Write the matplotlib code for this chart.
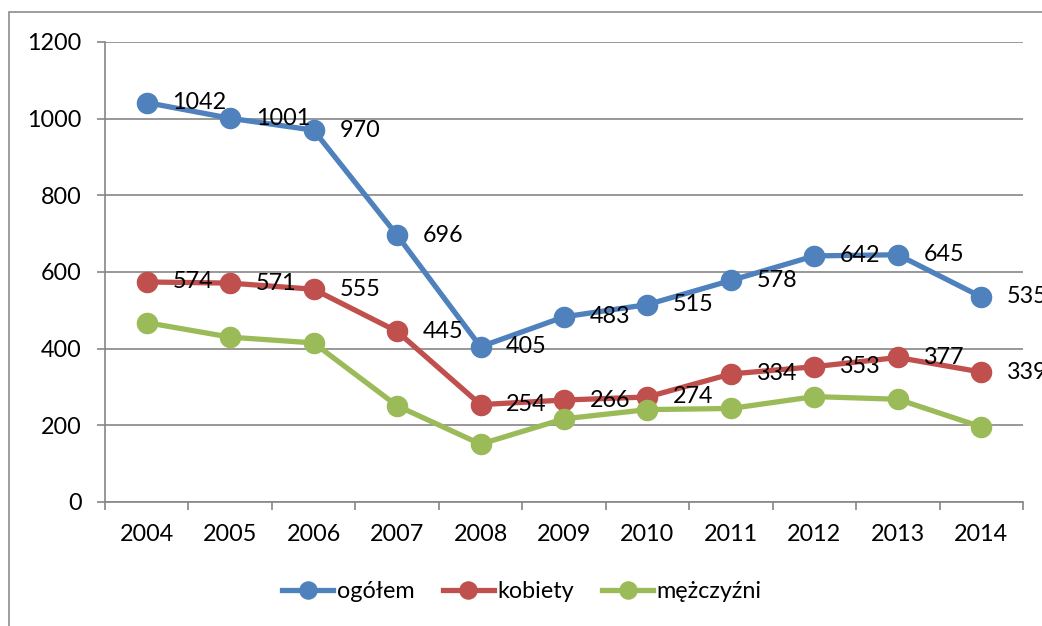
import matplotlib
matplotlib.use("Agg")
import matplotlib.pyplot as plt
from matplotlib.patches import Rectangle

years = ["2004", "2005", "2006", "2007", "2008", "2009", "2010", "2011", "2012", "2013", "2014"]
ogolem = [1042, 1001, 970, 696, 405, 483, 515, 578, 642, 645, 535]
kobiety = [574, 571, 555, 445, 254, 266, 274, 334, 353, 377, 339]
mezczyzni = [468, 430, 415, 251, 151, 217, 241, 244, 275, 268, 196]

plt.rcParams['font.family'] = ['Lato', 'DejaVu Sans']
FS = 16.8

fig = plt.figure(figsize=(10.42, 6.26), dpi=100)
# outer chart frame (cut at right and bottom)
fig.patches.append(Rectangle((9 / 1042, -0.1), 1.2, (626 - 12) / 626 + 0.1,
                             transform=fig.transFigure, fill=False,
                             edgecolor='#8c8c8c', linewidth=1.2))

ax = fig.add_axes([105 / 1042, 124 / 626, (1023 - 105) / 1042, 460 / 626])

x = list(range(len(years)))
series = [
    (ogolem, '#4F81BD', 'ogółem', True),
    (kobiety, '#C0504D', 'kobiety', True),
    (mezczyzni, '#9BBB59', 'mężczyźni', False),
]
for vals, col, name, labels in series:
    ax.plot(x, vals, color=col, lw=3.8, marker='o', ms=14.5, label=name, zorder=3)
    if labels:
        for xi, v in zip(x, vals):
            ax.annotate(str(v), (xi, v), xytext=(18.5, 0), textcoords='offset points',
                        ha='left', va='center', fontsize=FS, zorder=4,
                        annotation_clip=False)

ax.set_xlim(-0.5, len(years) - 0.5)
ax.set_ylim(0, 1200)
ax.set_yticks(range(0, 1201, 200))
ax.set_xticks([i - 0.5 for i in range(len(years) + 1)])
ax.set_xticklabels([])
ax.set_xticks(x, minor=True)
ax.set_xticklabels(years, minor=True)
ax.tick_params(axis='x', which='minor', length=0, pad=16, labelsize=FS)
ax.tick_params(axis='x', which='major', length=6, width=1.2, color='#868686', direction='out')
ax.tick_params(axis='y', length=6, width=1.2, color='#868686', pad=11, labelsize=FS)

ax.grid(axis='y', color='#868686', lw=1.2)
ax.set_axisbelow(True)
for s in ['top', 'right']:
    ax.spines[s].set_visible(False)
for s in ['left', 'bottom']:
    ax.spines[s].set_color('#868686')
    ax.spines[s].set_linewidth(1.2)

fig.legend(loc='center', bbox_to_anchor=(522 / 1042, 1 - 592 / 626), ncol=3,
           frameon=False, fontsize=FS, handlelength=2.2, markerscale=0.85,
           columnspacing=1.2, handletextpad=0.15)

fig.savefig('out.png', dpi=100)
